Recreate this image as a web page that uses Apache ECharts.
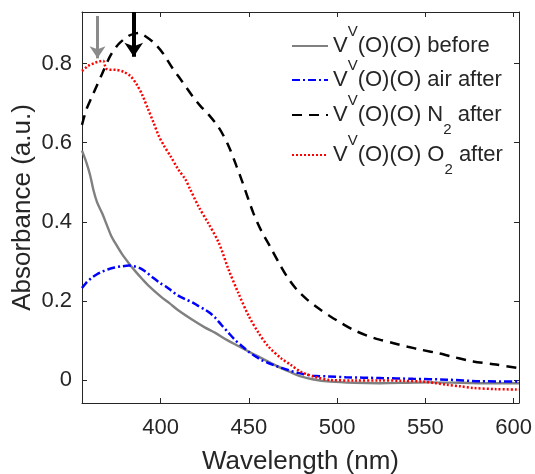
<!DOCTYPE html>
<html>
<head>
<meta charset="utf-8">
<script src="https://cdn.jsdelivr.net/npm/echarts@6/dist/echarts.min.js"></script>
<style>html,body{margin:0;padding:0;background:#fff}#c{width:535px;height:474px}</style>
</head>
<body>
<div id="c"></div>
<script>
// ---- data ----
var xTicks = [400, 450, 500, 550, 600];
var yTicks = [0, 0.2, 0.4, 0.6, 0.8];

var seriesNames = ['before', 'air', 'N2', 'O2'];

var wlBefore = [355.5, 358, 360, 362, 364, 366.8, 369.6, 372, 374.3, 378, 382, 386, 390, 393, 400, 405, 410, 418, 425, 431, 438, 444, 452, 459, 466, 473, 479, 486, 496, 510, 524, 540, 552, 570, 585, 603];
var absBefore = [0.58, 0.55, 0.52, 0.48, 0.45, 0.423, 0.392, 0.365, 0.347, 0.32, 0.296, 0.274, 0.254, 0.240, 0.212, 0.195, 0.177, 0.153, 0.134, 0.120, 0.101, 0.087, 0.068, 0.052, 0.036, 0.022, 0.011, 0.003, -0.003, -0.006, -0.007, -0.006, -0.005, -0.006, -0.007, -0.007];

var wlAir = [355.5, 358, 361, 364, 367, 370, 374, 378, 382, 385, 388, 391, 395, 400, 403, 406, 410, 414, 418, 421, 425, 428, 431, 434.5, 438.5, 442, 446, 450, 454, 457, 461, 465, 469, 473, 478, 486, 495, 505, 524, 543, 562, 581, 603];
var absAir = [0.233, 0.247, 0.259, 0.268, 0.275, 0.280, 0.285, 0.288, 0.290, 0.288, 0.284, 0.276, 0.262, 0.245, 0.237, 0.227, 0.214, 0.205, 0.197, 0.189, 0.179, 0.170, 0.158, 0.140, 0.120, 0.103, 0.087, 0.072, 0.060, 0.052, 0.044, 0.037, 0.031, 0.025, 0.019, 0.012, 0.010, 0.008, 0.006, 0.004, 0.002, -0.002, -0.003];

var wlN2 = [355.5, 358, 361, 363, 366.8, 371.5, 376, 382, 386, 388, 391, 396, 401, 406.5, 412, 418, 422.5, 427, 433, 438.5, 443, 446, 452.5, 457, 462, 467, 471.5, 477, 483, 490, 496, 503, 509, 517, 524, 532, 540, 548, 558, 567, 577, 590, 603];
var absN2 = [0.645, 0.684, 0.715, 0.735, 0.773, 0.819, 0.848, 0.870, 0.876, 0.877, 0.870, 0.853, 0.828, 0.790, 0.756, 0.718, 0.693, 0.672, 0.638, 0.592, 0.541, 0.505, 0.423, 0.378, 0.338, 0.297, 0.263, 0.230, 0.204, 0.180, 0.162, 0.143, 0.128, 0.113, 0.103, 0.094, 0.085, 0.077, 0.068, 0.058, 0.048, 0.040, 0.031];

var wlO2 = [355.5, 359, 363, 366, 367.5, 368.5, 369.5, 372, 374.5, 379, 383, 386.5, 389.5, 393, 396, 399, 402, 405.5, 410, 414, 416.5, 421.5, 427, 433, 438.5, 444, 450, 455.5, 461, 468.5, 473.5, 479, 486.5, 496, 510, 524, 537, 549, 556, 562, 570, 577, 590, 603];
var absO2 = [0.781, 0.794, 0.802, 0.806, 0.807, 0.795, 0.786, 0.784, 0.784, 0.779, 0.768, 0.747, 0.722, 0.684, 0.651, 0.617, 0.592, 0.567, 0.533, 0.508, 0.485, 0.439, 0.397, 0.347, 0.280, 0.221, 0.162, 0.120, 0.086, 0.055, 0.040, 0.023, 0.010, 0.001, 0.000, 0.000, -0.001, -0.003, -0.007, -0.011, -0.015, -0.019, -0.022, -0.023];

// arrows: [wavelength, top absorbance, tip absorbance]
var arrowGray = [364.3, 0.92, 0.813];
var arrowBlack = [384.8, 0.93, 0.817];

// ---- chart ----
function pairs(xs, ys) { return xs.map(function (x, i) { return [x, ys[i]]; }); }
var FONT = 'Liberation Sans';
var TXT = '#262626';

var legendLabels = {
  before: '{a|V}{sup|V}{a|(O)(O) before}',
  air: '{a|V}{sup|V}{a|(O)(O) air after}',
  N2: '{a|V}{sup|V}{a|(O)(O) N}{sub|2}{a| after}',
  O2: '{a|V}{sup|V}{a|(O)(O) O}{sub|2}{a| after}'
};
var rich = {
  a: { fontSize: 22, lineHeight: 44, fontFamily: FONT, color: TXT, verticalAlign: 'middle' },
  sup: { fontSize: 15, lineHeight: 42, fontFamily: FONT, color: TXT, verticalAlign: 'top' },
  sub: { fontSize: 15, lineHeight: 14, fontFamily: FONT, color: TXT, verticalAlign: 'bottom' }
};
var legendCenters = [46, 80, 115, 155];

function mkLegend(name, i) {
  return {
    data: [name], left: 291, top: legendCenters[i] - 22, padding: 0,
    itemWidth: 36, itemHeight: 14, selectedMode: false,
    itemStyle: { opacity: 0, borderWidth: 0 },
    formatter: function (n) { return legendLabels[n]; },
    textStyle: { rich: rich, fontSize: 22, fontFamily: FONT, color: TXT }
  };
}

function arrowMark(a, color, width, size) {
  return {
    silent: true, animation: false,
    symbol: ['none', 'arrow'], symbolSize: size,
    label: { show: false },
    lineStyle: { color: color, width: width, type: 'solid', opacity: 1 },
    itemStyle: { color: color },
    emphasis: { disabled: true },
    data: [[{ coord: [a[0], a[1]] }, { coord: [a[0], a[2]] }]]
  };
}

var xCommon = {
  type: 'value', min: 355.5, max: 603,
  axisLine: { show: true, onZero: false, lineStyle: { color: TXT, width: 1 } },
  splitLine: { show: false }
};
var yCommon = {
  type: 'value', min: -0.057, max: 0.93,
  axisLine: { show: true, onZero: false, lineStyle: { color: TXT, width: 1 } },
  splitLine: { show: false }
};

var option = {
  animation: false,
  backgroundColor: '#fff',
  grid: { left: 82, right: 16, top: 12, bottom: 71, containLabel: false, outerBoundsMode: 'none' },
  legend: seriesNames.map(mkLegend),
  xAxis: [
    Object.assign({}, xCommon, {
      position: 'bottom',
      name: 'Wavelength (nm)', nameLocation: 'middle', nameGap: 46,
      nameTextStyle: { fontSize: 26, fontFamily: FONT, color: TXT },
      axisTick: { show: true, inside: true, length: 5, customValues: xTicks, lineStyle: { color: TXT } },
      axisLabel: { show: true, customValues: xTicks, fontSize: 22, fontFamily: FONT, color: TXT, margin: 14 }
    }),
    Object.assign({}, xCommon, {
      position: 'top',
      axisTick: { show: true, inside: true, length: 5, customValues: xTicks, lineStyle: { color: TXT } },
      axisLabel: { show: false }
    })
  ],
  yAxis: [
    Object.assign({}, yCommon, {
      position: 'left',
      name: 'Absorbance (a.u.)', nameLocation: 'middle', nameGap: 46, nameRotate: 90, nameMoveOverlap: false,
      nameTextStyle: { fontSize: 26, fontFamily: FONT, color: TXT },
      axisTick: { show: true, inside: true, length: 5, customValues: yTicks, lineStyle: { color: TXT } },
      axisLabel: { show: true, customValues: yTicks, fontSize: 22, fontFamily: FONT, color: TXT, margin: 10,
        formatter: function (v) { return String(Math.round(v * 10) / 10); } }
    }),
    Object.assign({}, yCommon, {
      position: 'right',
      axisTick: { show: true, inside: true, length: 5, customValues: yTicks, lineStyle: { color: TXT } },
      axisLabel: { show: false }
    })
  ],
  series: [
    {
      name: 'before', type: 'line', showSymbol: false, symbol: 'none', smooth: 0.3,
      data: pairs(wlBefore, absBefore),
      lineStyle: { color: '#808080', width: 2.4, type: 'solid' }, itemStyle: { color: '#808080' },
      z: 2,
      markLine: arrowMark(arrowGray, '#8a8a8a', 3, 12)
    },
    {
      name: 'air', type: 'line', showSymbol: false, symbol: 'none', smooth: 0.3,
      data: pairs(wlAir, absAir),
      lineStyle: { color: '#0000ff', width: 2.5, type: [8, 3, 2, 3] }, itemStyle: { color: '#0000ff' },
      z: 3
    },
    {
      name: 'N2', type: 'line', showSymbol: false, symbol: 'none', smooth: 0.3,
      data: pairs(wlN2, absN2),
      lineStyle: { color: '#000000', width: 2.5, type: [10, 7] }, itemStyle: { color: '#000000' },
      z: 4,
      markLine: arrowMark(arrowBlack, '#000000', 4, 14)
    },
    {
      name: 'O2', type: 'line', showSymbol: false, symbol: 'none', smooth: 0.3,
      data: pairs(wlO2, absO2),
      lineStyle: { color: '#ff0000', width: 2.5, type: [2, 2] }, itemStyle: { color: '#ff0000' },
      z: 5
    }
  ]
};

var chart = echarts.init(document.getElementById('c'), null, { renderer: 'canvas' });
chart.setOption(option);
</script>
</body>
</html>
